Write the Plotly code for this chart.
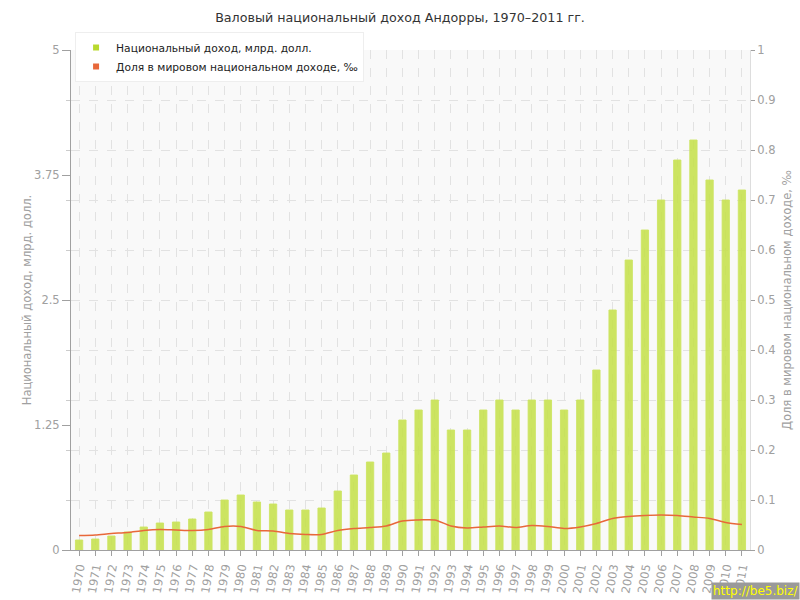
import plotly.graph_objects as go

years = [str(y) for y in range(1970, 2012)]
income = [0.10, 0.11, 0.14, 0.18, 0.23, 0.27, 0.28, 0.31, 0.38, 0.50,
          0.55, 0.48, 0.46, 0.40, 0.40, 0.42, 0.59, 0.75, 0.88, 0.97,
          1.30, 1.40, 1.50, 1.20, 1.20, 1.40, 1.50, 1.40, 1.50, 1.50,
          1.40, 1.50, 1.80, 2.40, 2.90, 3.20, 3.50, 3.90, 4.10, 3.70,
          3.50, 3.60]
share = [0.029, 0.030, 0.033, 0.035, 0.039, 0.041, 0.040, 0.039, 0.041, 0.047,
         0.047, 0.039, 0.038, 0.033, 0.031, 0.031, 0.039, 0.043, 0.045, 0.048,
         0.058, 0.060, 0.060, 0.048, 0.044, 0.046, 0.048, 0.045, 0.049, 0.047,
         0.043, 0.046, 0.053, 0.063, 0.067, 0.069, 0.070, 0.069, 0.066, 0.063,
         0.055, 0.051]
left_ticks = [0, 1.25, 2.5, 3.75, 5]
left_labels = ["0", "1.25", "2.5", "3.75", "5"]
right_ticks = [round(i * 0.1, 1) for i in range(11)]
right_labels = ["0", "0.1", "0.2", "0.3", "0.4", "0.5", "0.6", "0.7", "0.8", "0.9", "1"]
name_income = "Национальный доход, млрд. долл."
name_share = "Доля в мировом национальном доходе, ‰"

FONT = "DejaVu Sans, Verdana, sans-serif"
GRAY = "#a0a0a0"
GREEN = "#b8d92e"
ORANGE = "#e8683a"

fig = go.Figure()
fig.add_trace(go.Bar(
    x=years, y=income, name=name_income, showlegend=False,
    marker=dict(color="rgba(196,224,70,0.85)", line=dict(color="rgba(205,228,100,0.9)", width=1)),
    width=0.45, yaxis="y"))
fig.add_trace(go.Scatter(
    x=years, y=share, name=name_share, showlegend=False,
    mode="lines", line=dict(color=ORANGE, width=1.5, shape="spline", smoothing=0.8),
    yaxis="y2"))
# legend entries with square swatches
fig.add_trace(go.Scatter(x=[None], y=[None], mode="markers", name=name_income,
                         marker=dict(symbol="square", size=6, color=GREEN), yaxis="y"))
fig.add_trace(go.Scatter(x=[None], y=[None], mode="markers", name=name_share,
                         marker=dict(symbol="square", size=6, color=ORANGE), yaxis="y2"))

fig.update_layout(
    width=800, height=600,
    margin=dict(l=71, r=50, t=50, b=50, autoexpand=False),
    paper_bgcolor="white", plot_bgcolor="#f9f9f9",
    font=dict(family=FONT, size=11, color=GRAY),
    title=dict(text="Валовый национальный доход Андорры, 1970–2011 гг.",
               x=0.5, xanchor="center", y=0.97, yanchor="middle", yref="container",
               font=dict(family=FONT, size=12.7, color="#333333")),
    showlegend=True,
    legend=dict(x=0.006, y=1.036, xanchor="left", yanchor="top",
                bgcolor="white", bordercolor="#eeeeee", borderwidth=1,
                font=dict(family=FONT, size=10.7, color="#222222"),
                tracegroupgap=0, itemwidth=30),
    bargap=0.55,
    xaxis=dict(type="category", tickangle=-80, showline=True, linecolor=GRAY, linewidth=1,
               ticks="outside", ticklen=5, tickcolor=GRAY, automargin=False,
               showgrid=True, gridcolor="#e2e2e2", griddash="dash", gridwidth=1,
               tickfont=dict(family=FONT, size=11.5, color=GRAY), zeroline=False),
    yaxis=dict(range=[0, 5], tickvals=left_ticks, ticktext=left_labels, automargin=False,
               showline=True, linecolor=GRAY, linewidth=1, ticks="outside", ticklen=8,
               tickcolor=GRAY, showgrid=False, zeroline=False,
               minor=dict(tickvals=[0.5, 1, 1.5, 2, 3, 3.5, 4, 4.5], ticks="outside",
                          ticklen=4, tickcolor="#cccccc", showgrid=False),
               title=dict(text=name_income, standoff=0,
                          font=dict(family=FONT, size=11.5, color=GRAY)),
               tickfont=dict(family=FONT, size=11.5, color=GRAY)),
    yaxis2=dict(range=[0, 1], tickvals=right_ticks, ticktext=right_labels, automargin=False,
                overlaying="y", side="right",
                showline=True, linecolor="#dddddd", linewidth=1, ticks="outside", ticklen=4,
                tickcolor=GRAY, showgrid=True, gridcolor="#e2e2e2", griddash="dash",
                zeroline=False,
                title=dict(text=name_share, standoff=8,
                           font=dict(family=FONT, size=11.5, color=GRAY)),
                tickfont=dict(family=FONT, size=11.5, color=GRAY)),
    annotations=[dict(text="http://be5.biz/", xref="paper", yref="paper",
                      x=1.0737, y=-0.1, xanchor="right", yanchor="bottom",
                      showarrow=False, bgcolor="#9a9a9a", borderpad=1,
                      font=dict(family=FONT, size=12, color="#ffff00"))],
)

fig.write_html("out.html", config={"displayModeBar": False},
               post_script="document.body.style.margin='0';document.body.style.padding='0';")
